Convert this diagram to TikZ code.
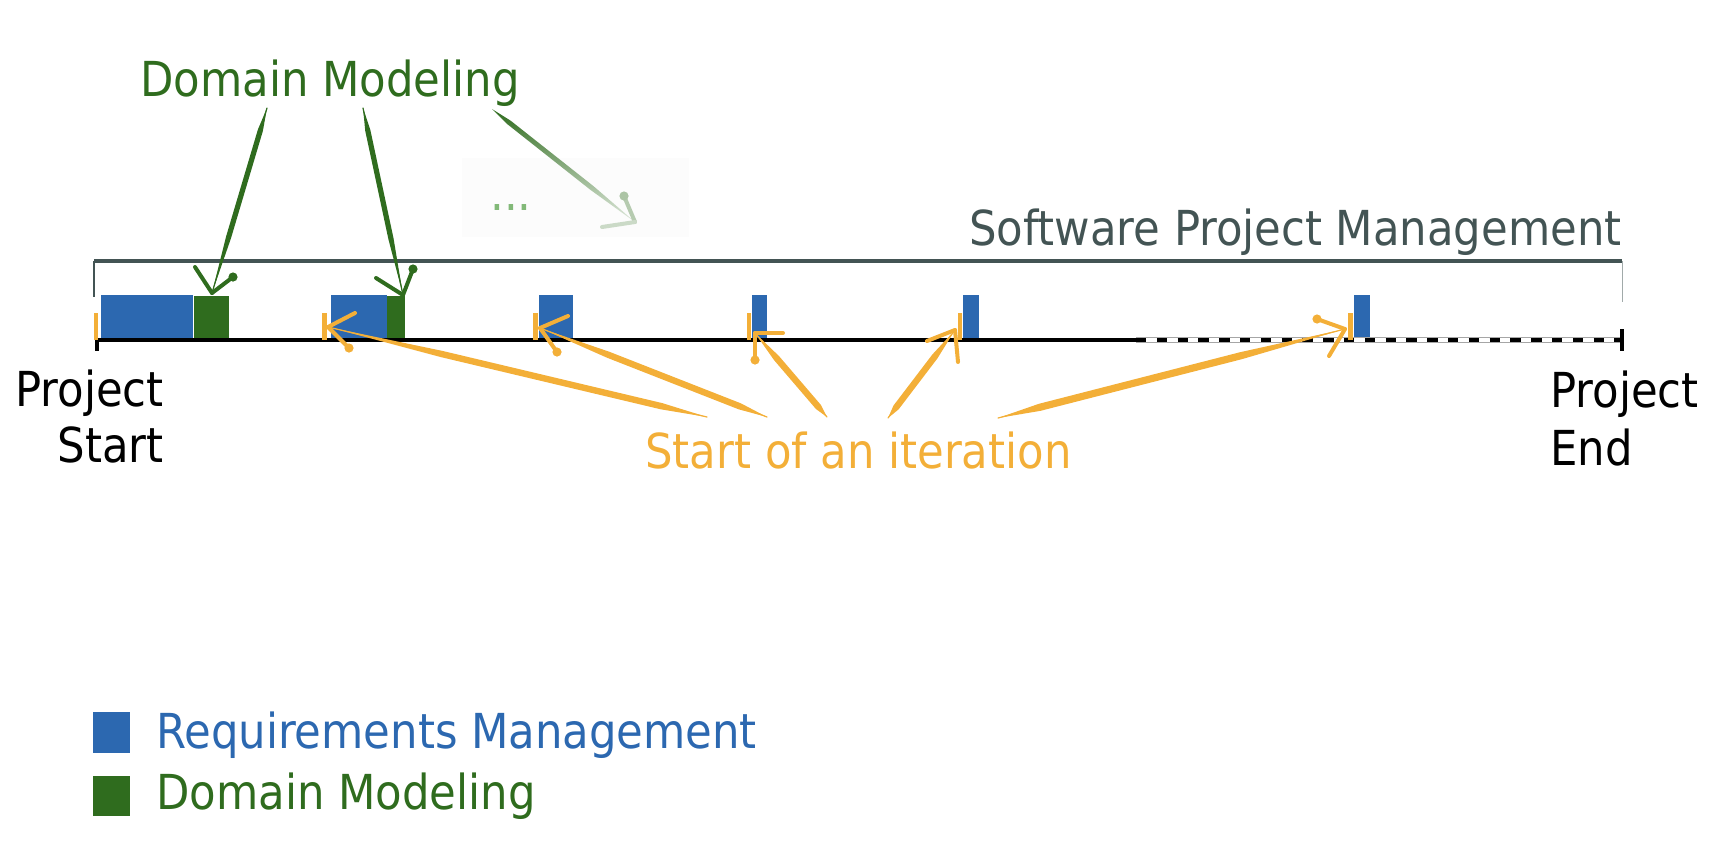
\documentclass[tikz,border=0pt]{standalone}
\usepackage{fontspec}
\setmainfont{DejaVu Sans Condensed}
\usetikzlibrary{calc}
\definecolor{rmblue}{RGB}{44,104,176}
\definecolor{dmgreen}{RGB}{47,108,30}
\definecolor{itorange}{RGB}{243,175,56}
\definecolor{spmgray}{RGB}{67,84,84}
\definecolor{dotgreen}{RGB}{130,185,120}
\newcommand\brushstroke[4]{%
  \fill[#1] (#2) -- ($(#2)!0.12!(#3)!#4!90:(#3)$) -- ($(#2)!0.7!(#3)!#4!90:(#3)$) -- (#3)
     -- ($(#2)!0.7!(#3)!#4!-90:(#3)$) -- ($(#2)!0.12!(#3)!#4!-90:(#3)$) -- cycle;
  \draw[#1, line width=0.6pt, line cap=round] (#2) -- (#3);}
\newcommand\brusharm[3]{\draw[#1, line width=2pt, line cap=round] (#2) -- (#3);}
\newcommand\brushdot[2]{\fill[#1] (#2) circle (2.3pt);}
\begin{document}
\begin{tikzpicture}[x=0.5pt,y=-0.5pt,
  lbl/.style={inner sep=0pt, font=\fontsize{24.1}{28}\selectfont},
  rmbox/.style={fill=rmblue, draw=none, inner sep=0pt, anchor=north west, minimum height=22pt},
  dmbox/.style={fill=dmgreen, draw=none, inner sep=0pt, anchor=north west, minimum height=21.5pt},
  itick/.style={fill=itorange, draw=none, inner sep=0pt, anchor=south, minimum width=2.4pt, minimum height=13.5pt},
  timeline/.style={line width=2pt, black},
  bracket/.style={spmgray, line width=2pt},
 ]
\useasboundingbox (0,0) rectangle (1732,842);

% faint overlay box and dots
\fill[black!1.2] (462,158) rectangle (689,237);
\node[lbl, text=dotgreen, anchor=base west] (dots) at (490,210) {...};

% bracket
\coordinate (bl) at (94,261);
\coordinate (br) at (1622,261);
\draw[bracket] (bl) -- (br);
\draw[spmgray, line width=0.7pt] (bl) -- (94,297);
\draw[spmgray!50, line width=0.5pt] (br) -- (1622,302);
\node[lbl, text=spmgray, anchor=base east] (spm) at (1622,245) {Software Project Management};

% boxes
\node[rmbox, minimum width=46pt] (rm1) at (101,295) {};
\node[dmbox, minimum width=17.5pt] (dm1) at (194,296) {};
\node[rmbox, minimum width=28pt] (rm2) at (331,295) {};
\node[dmbox, minimum width=9pt] (dm2) at (387,296) {};
\node[rmbox, minimum width=17pt] (rm3) at (539,295) {};
\node[rmbox, minimum width=7.5pt] (rm4) at (752,295) {};
\node[rmbox, minimum width=8pt] (rm5) at (963,295) {};
\node[rmbox, minimum width=8pt] (rm6) at (1354,295) {};

% timeline
\coordinate (ps) at (95,340);
\coordinate (dstart) at (1136,340);
\coordinate (pe) at (1622,340);
\draw[timeline] (ps) -- (dstart);
\draw[black!35, line width=2.6pt] (dstart) -- (pe);
\draw[white, line width=1.6pt] (dstart) -- (pe);
\draw[timeline, dash pattern=on 5.2pt off 5.2pt] (dstart) -- (pe);
\draw[line width=2pt] (97,338) -- (97,351);
\draw[line width=2pt] (1622,329) -- (1622,351);

% iteration ticks
\node[itick] (t1) at (96,340) {};
\node[itick] (t2) at (324.5,340) {};
\node[itick] (t3) at (535.5,340) {};
\node[itick] (t4) at (749,340) {};
\node[itick] (t5) at (960,340) {};
\node[itick] (t6) at (1350.5,340) {};

% labels
\node[lbl, text=dmgreen, anchor=base west] (dmtop) at (140,96) {Domain Modeling};
\node[lbl, anchor=base east] (ps1) at (164,406) {Project};
\node[lbl, anchor=base east] (ps2) at (164,462) {Start};
\node[lbl, anchor=base west] (pe1) at (1550,407) {Project};
\node[lbl, anchor=base west] (pe2) at (1550,465) {End};
\node[lbl, text=itorange, anchor=base west] (soi) at (645,468) {Start of an iteration};

% green arrows
\coordinate (g1s) at (267,108); \coordinate (g1e) at (212,293);
\coordinate (g1a) at (195,267); \coordinate (g1b) at (233,277);
\brushstroke{dmgreen}{g1s}{g1e}{1.3pt}
\brusharm{dmgreen}{g1e}{g1a}\brusharm{dmgreen}{g1e}{g1b}\brushdot{dmgreen}{g1b}
\coordinate (g2s) at (363,108); \coordinate (g2e) at (403,295);
\coordinate (g2a) at (376,278); \coordinate (g2b) at (413,269);
\brushstroke{dmgreen}{g2s}{g2e}{1.3pt}
\brusharm{dmgreen}{g2e}{g2a}\brusharm{dmgreen}{g2e}{g2b}\brushdot{dmgreen}{g2b}
\coordinate (g3s) at (492,109); \coordinate (g3e) at (635,222);
\coordinate (g3a) at (624,196); \coordinate (g3b) at (602,227);
\shade[top color=dmgreen, bottom color=dmgreen!15] (g3s) -- ($(g3s)!0.12!(g3e)!1.2pt!90:(g3e)$) -- ($(g3s)!0.7!(g3e)!1.2pt!90:(g3e)$) -- (g3e) -- ($(g3s)!0.7!(g3e)!1.2pt!-90:(g3e)$) -- ($(g3s)!0.12!(g3e)!1.2pt!-90:(g3e)$) -- cycle;
\brusharm{dmgreen!35}{g3e}{g3a}\brusharm{dmgreen!25}{g3e}{g3b}\brushdot{dmgreen!40}{g3a}

% orange arrows
\coordinate (o2s) at (707,417); \coordinate (o2e) at (328,327);
\coordinate (o2a) at (355,313); \coordinate (o2b) at (349,348);
\brushstroke{itorange}{o2s}{o2e}{1.6pt}
\brusharm{itorange}{o2e}{o2a}\brusharm{itorange}{o2e}{o2b}\brushdot{itorange}{o2b}
\coordinate (o3s) at (767,417); \coordinate (o3e) at (540,328);
\coordinate (o3a) at (568,316); \coordinate (o3b) at (557,352);
\brushstroke{itorange}{o3s}{o3e}{1.6pt}
\brusharm{itorange}{o3e}{o3a}\brusharm{itorange}{o3e}{o3b}\brushdot{itorange}{o3b}
\coordinate (o4s) at (827,417); \coordinate (o4e) at (755,333);
\coordinate (o4a) at (783,333); \coordinate (o4b) at (755,360);
\brushstroke{itorange}{o4s}{o4e}{1.6pt}
\brusharm{itorange}{o4e}{o4a}\brusharm{itorange}{o4e}{o4b}\brushdot{itorange}{o4b}
\coordinate (o5s) at (888,418); \coordinate (o5e) at (955,330);
\coordinate (o5a) at (927,341); \coordinate (o5b) at (958,362);
\brushstroke{itorange}{o5s}{o5e}{1.6pt}
\brusharm{itorange}{o5e}{o5a}\brusharm{itorange}{o5e}{o5b}
\coordinate (o6s) at (998,418); \coordinate (o6e) at (1345,329);
\coordinate (o6a) at (1317,319); \coordinate (o6b) at (1329,356);
\brushstroke{itorange}{o6s}{o6e}{1.8pt}
\brusharm{itorange}{o6e}{o6a}\brusharm{itorange}{o6e}{o6b}\brushdot{itorange}{o6a}

% legend
\node[rmbox, minimum width=18.5pt, minimum height=20.5pt] (lgrm) at (93,712) {};
\node[lbl, text=rmblue, anchor=base west] (lgrmt) at (156,748) {Requirements Management};
\node[dmbox, minimum width=18.5pt, minimum height=20pt] (lgdm) at (93,776) {};
\node[lbl, text=dmgreen, anchor=base west] (lgdmt) at (156,809) {Domain Modeling};
\end{tikzpicture}
\end{document}
